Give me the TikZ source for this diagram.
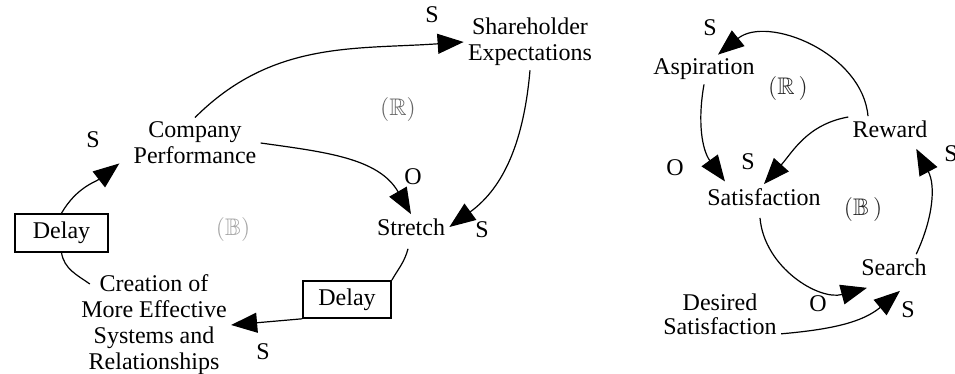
\documentclass[tikz,border=0pt]{standalone}
\usepackage{amssymb}
\usepackage{fontspec}
\setmainfont{Liberation Serif}
\usetikzlibrary{arrows.meta,positioning}

\begin{document}
\begin{tikzpicture}[
    x=0.5pt, y=0.5pt,
    var/.style={align=center, inner sep=2pt, font=\fontsize{12}{13}\selectfont},
    delaybox/.style={draw, line width=0.8pt, inner sep=2pt,
                     font=\fontsize{12}{13}\selectfont},
    sign/.style={inner sep=0pt, font=\fontsize{12}{13}\selectfont},
    loopmark/.style={inner sep=0pt, font=\fontsize{12}{13}\selectfont},
    link/.style={-{Triangle[length=13pt,width=10pt]}, line width=0.6pt},
    wire/.style={line width=0.6pt},
]
  \useasboundingbox (0,0) rectangle (955,-374);

  % Left loops: performance and stretch
  \node[var] (perf) at (195,-143) {Company\\Performance};
  \node[var] (expect) at (530,-42) {Shareholder\\Expectations};
  \node[var] (stretch) at (411,-227) {Stretch};
  \node[delaybox, minimum width=46.5pt, minimum height=19pt] (delayA)
    at (61.5,-233) {Delay};
  \node[var] (create) at (154,-325)
    {Creation of\\More Effective\\Systems and\\Relationships};
  \node[delaybox, minimum width=44pt, minimum height=18.5pt] (delayB)
    at (347,-299.5) {Delay};
  \node[loopmark, black!60] (loopRA) at (398,-110) {$(\mathbb{R})$};
  \node[loopmark, black!35] (loopBA) at (233,-230) {$(\mathbb{B})$};

  % Right loops: aspiration and search
  \node[var] (asp) at (704,-69.5) {Aspiration};
  \node[var] (rew) at (890,-129) {Reward};
  \node[var] (sat) at (764,-197) {Satisfaction};
  \node[var] (sea) at (894,-267) {Search};
  \node[var, font=\fontsize{12}{12}\selectfont] (des) at (720,-314)
    {Desired\\Satisfaction};
  \node[loopmark, black!85] (loopRB) at (788,-89) {$(\mathbb{R}\,)$};
  \node[loopmark, black!85] (loopBB) at (863,-210) {$(\mathbb{B}\,)$};

  % Polarity marks
  \node[sign] (sPE) at (432,-15) {S};
  \node[sign] (oPS) at (413,-177) {O};
  \node[sign] (sES) at (482,-229.5) {S};
  \node[sign] (sDP) at (93,-139.5) {S};
  \node[sign] (sDC) at (263,-352) {S};
  \node[sign] (sRA) at (710,-27.5) {S};
  \node[sign] (oAS) at (675,-168) {O};
  \node[sign] (sRS) at (748,-162) {S};
  \node[sign] (oSS) at (818,-304) {O};
  \node[sign] (sDS) at (908,-310) {S};
  \node[sign] (sSR) at (951,-154) {S};

  % Links, left
  \draw[link] (perf.north) to[out=45,in=184] (expect.west);
  \draw[link] (perf.east) to[out=-8,in=120] (stretch.north);
  \draw[link] (expect.south) to[out=-95,in=36] (stretch.east);
  \draw[link] (delayA.north) to[out=60,in=218]
    ([xshift=-5pt,yshift=2.5pt]perf.south west);
  \draw[wire] (delayA.south) to[out=-80,in=145]
    ([xshift=6.5pt,yshift=-6.7pt]create.north west);
  \draw[wire] ([xshift=-1.5pt,yshift=-4.5pt]stretch.south) to[out=-105,in=60]
    (delayB.north east);
  \draw[link] (delayB.south west) -- (create.east);

  % Links, right
  \draw[link] ([xshift=-11pt]rew.north) to[out=95,in=39]
    ([xshift=7pt]asp.north);
  \draw[link] (asp.south) to[out=-100,in=126]
    ([xshift=11pt,yshift=1.3pt]sat.north west);
  \draw[link] ([yshift=6pt]rew.west) to[out=190,in=48] (sat.north);
  \draw[link] ([xshift=-2pt,yshift=-4pt]sat.south) to[out=-85,in=195]
    ([xshift=5pt,yshift=-4pt]sea.south west);
  \draw[link] ([yshift=2.5pt]des.south east) to[out=5,in=220]
    ([xshift=3pt,yshift=-5.5pt]sea.south);
  \draw[link] (sea.30) to[out=65,in=-62] ([xshift=2pt,yshift=-3.5pt]rew.-30);
\end{tikzpicture}
\end{document}
